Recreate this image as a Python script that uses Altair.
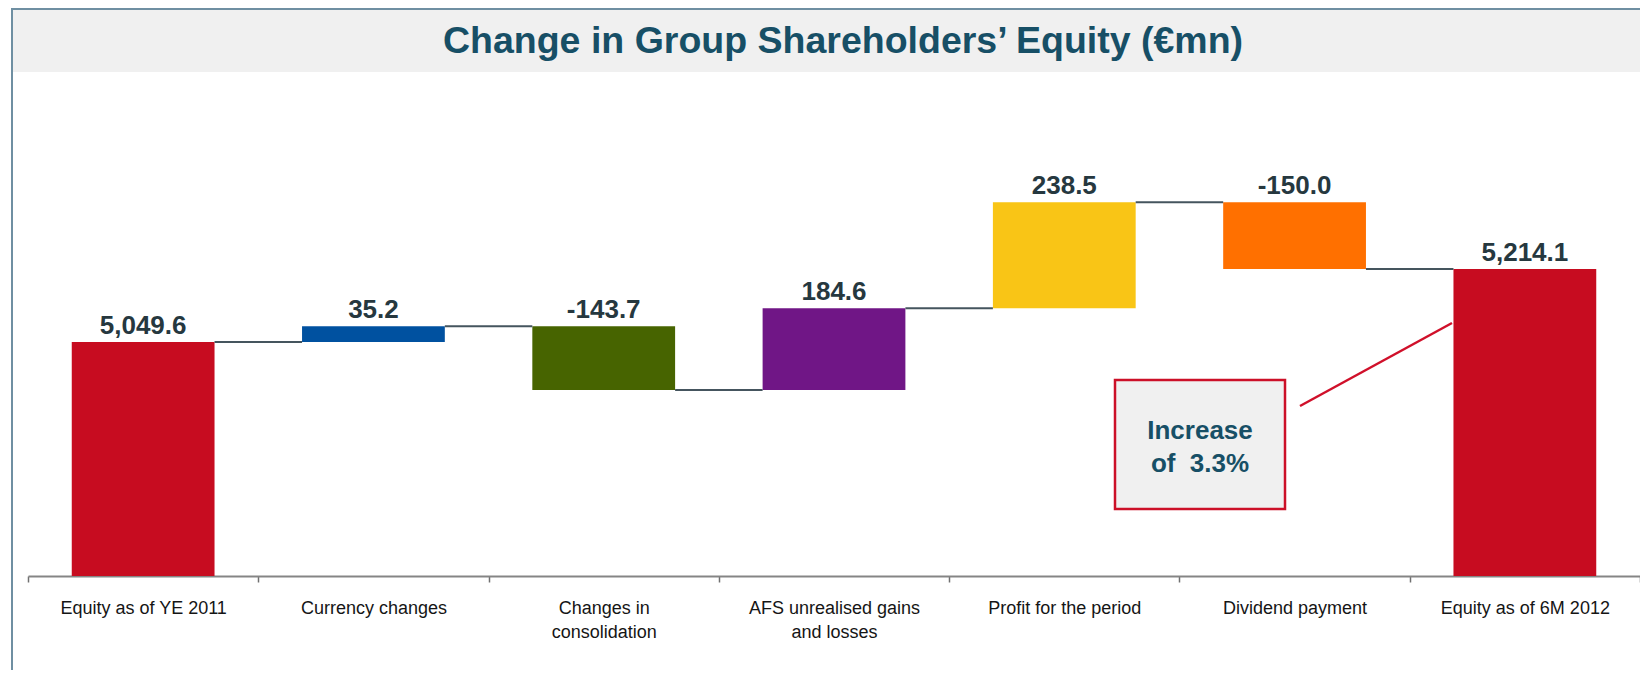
import altair as alt
import pandas as pd

# ---- data ----
categories = [
    "Equity as of YE 2011",
    "Currency changes",
    "Changes in|consolidation",
    "AFS unrealised gains|and losses",
    "Profit for the period",
    "Dividend payment",
    "Equity as of 6M 2012",
]
values = [5049.6, 35.2, -143.7, 184.6, 238.5, -150.0, 5214.1]
kinds = ["total", "delta", "delta", "delta", "delta", "delta", "total"]
value_labels = ["5,049.6", "35.2", "-143.7", "184.6", "238.5", "-150.0", "5,214.1"]
bar_colors = ["#c70c20", "#0051a0", "#476400", "#701686", "#f9c516", "#ff7000", "#c70c20"]

y_floor = 4522.0   # truncated value axis (baseline of the chart)
y_top = 5640.0

title_text = "Change in Group Shareholders\u2019 Equity (\u20acmn)"
note_lines = ["Increase", "of\u00a0 3.3%"]

# ---- build tables ----
rows = []
conn = []
level = None
for i, (c, v, k, lab, col) in enumerate(zip(categories, values, kinds, value_labels, bar_colors)):
    if k == "total":
        start, end = y_floor, v
        level = v
    else:
        start, end = level, level + v
        level = end
    rows.append({"cat": c, "start": start, "end": end, "top": max(start, end) if k == "delta" else end,
                 "label": lab, "color": col})
    if i < len(categories) - 1:
        conn.append({"cat": c, "next": categories[i + 1], "level": level})

bars_df = pd.DataFrame(rows)
conn_df = pd.DataFrame(conn)
one = pd.DataFrame({"a": [0]})

W, H = 1612, 496
FONT = "Liberation Sans"

x_scale = alt.Scale(paddingInner=0, paddingOuter=0)
y_scale = alt.Scale(domain=[y_floor, y_top], zero=False, nice=False)

x_axis = alt.Axis(
    title=None, labelAngle=0, labelFont=FONT, labelFontSize=18, labelColor="#151515",
    labelExpr="split(datum.label, '|')", labelLineHeight=24, labelBaseline="top",
    labelPadding=17, labelLimit=0, tickBand="extent", tickSize=6, tickColor="#707070",
    tickWidth=1.5, domainColor="#858585", domainWidth=2, grid=False,
)

base = alt.Chart(bars_df)

# decorations: title band, frame
band = alt.Chart(one).mark_rect(color="#f0f0f0").encode(
    x=alt.value(-16), x2=alt.value(W + 20), y=alt.value(-72), y2=alt.value(-8)
)
frame_top = alt.Chart(one).mark_rule(color="#6f8fa2", strokeWidth=2).encode(
    x=alt.value(-17), x2=alt.value(W + 20), y=alt.value(-71)
)
frame_left = alt.Chart(one).mark_rule(color="#6f8fa2", strokeWidth=2).encode(
    x=alt.value(-16), y=alt.value(-72), y2=alt.value(H + 120)
)
title = alt.Chart(one).mark_text(
    text=title_text, font=FONT, fontSize=37.5, fontWeight="bold", color="#174f66",
    align="center", baseline="alphabetic"
).encode(x=alt.value(815), y=alt.value(-27))

bars = base.mark_bar(width=alt.RelativeBandSize(0.62)).encode(
    x=alt.X("cat:N", sort=categories, scale=x_scale, axis=x_axis),
    y=alt.Y("start:Q", scale=y_scale, axis=None),
    y2="end:Q",
    color=alt.Color("color:N", scale=None),
)

connectors = alt.Chart(conn_df).mark_rule(color="#45555e", strokeWidth=2).encode(
    x=alt.X("cat:N", sort=categories, bandPosition=0.81),
    x2=alt.X2("next:N", bandPosition=0.19),
    y=alt.Y("level:Q"),
)

value_text = base.mark_text(
    font=FONT, fontSize=26, fontWeight="bold", color="#26383f", baseline="alphabetic", dy=-8
).encode(
    x=alt.X("cat:N", sort=categories),
    y=alt.Y("top:Q"),
    text="label:N",
)

# annotation box
note_box = alt.Chart(one).mark_rect(fill="#f0f0f0", stroke="#cc1028", strokeWidth=2.5).encode(
    x=alt.value(1087), x2=alt.value(1257), y=alt.value(300), y2=alt.value(429)
)
note_line = alt.Chart(one).mark_rule(color="#d0102a", strokeWidth=2.5).encode(
    x=alt.value(1272), x2=alt.value(1424), y=alt.value(326), y2=alt.value(243)
)
note_text = alt.Chart(one).mark_text(
    text=note_lines, font=FONT, fontSize=26, fontWeight="bold", color="#174f66",
    align="center", baseline="alphabetic", lineHeight=33
).encode(x=alt.value(1172), y=alt.value(359))

chart = alt.layer(
    band, frame_top, frame_left, title, bars, connectors, value_text, note_box, note_line, note_text
).properties(
    width=W, height=H,
    padding={"left": 20, "top": 72, "right": 0, "bottom": 94},
    autosize=alt.AutoSizeParams(type="none"),
    background="white",
).configure_view(stroke=None)

chart.save("out.html", embed_options={"renderer": "svg", "actions": False})
